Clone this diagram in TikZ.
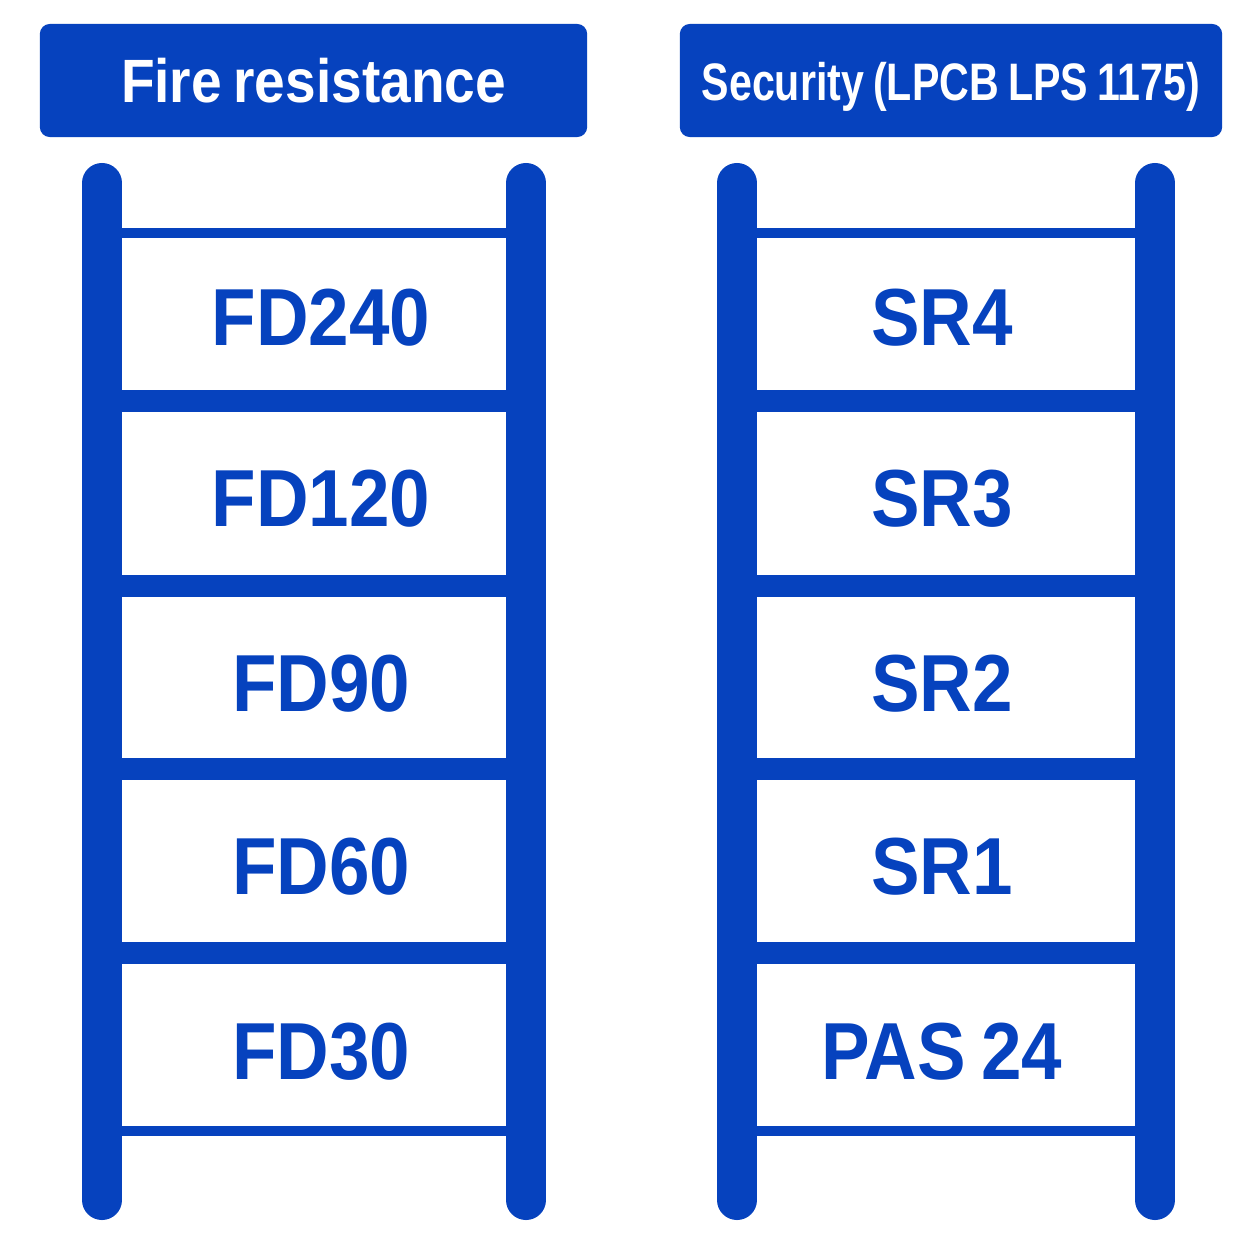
\documentclass[tikz,border=0pt]{standalone}
\usepackage{fontspec}
\newfontfamily\ladfont{Liberation Sans}[FakeStretch=0.9,WordSpace=0.75]
\newfontfamily\narfont{Liberation Sans}[FakeStretch=0.78,WordSpace=0.8]

\begin{document}
\begin{tikzpicture}[x=0.01cm,y=-0.01cm]
%
\definecolor{col_head}{RGB}{6,66,190}
\definecolor{col_rail}{RGB}{6,66,190}
\definecolor{col_rung}{RGB}{6,66,190}
\definecolor{col_lab}{RGB}{6,66,190}
%
%
\tikzset{
  head/.style={fill=col_head,rounded corners=0.1cm,inner sep=0pt,
    minimum height=1.13cm,text=white,text height=0.44cm,text depth=0pt},
  rail/.style={draw=col_rail,line width=0.4cm,line cap=round},
  rungthin/.style={draw=col_rung,line width=0.1cm},
  rungthick/.style={draw=col_rung,line width=0.22cm},
  lab/.style={inner sep=0pt,text=col_lab,text height=0.58cm,text depth=0pt,
    font=\ladfont\bfseries\fontsize{23}{26}\selectfont}
}
%
\fill[white] (0,0) rectangle (1254,1254);
\useasboundingbox (0,0) rectangle (1254,1254);
%
%
\node[head,minimum width=5.47cm,font=\ladfont\bfseries\fontsize{17.4}{20}\selectfont]
  (hf) at (313.5,80.5) {Fire resistance};
\node[head,minimum width=5.42cm,text height=0.39cm,font=\narfont\bfseries\fontsize{15}{18}\selectfont]
  (hs) at (951,80.5) {Security (LPCB LPS 1175)};
%
%
\coordinate (fl_t) at (102,183);
\coordinate (fl_b) at (102,1200);
\coordinate (fr_t) at (526,183);
\coordinate (fr_b) at (526,1200);
\coordinate (sl_t) at (737,183);
\coordinate (sl_b) at (737,1200);
\coordinate (sr_t) at (1155,183);
\coordinate (sr_b) at (1155,1200);
%
\coordinate (fl0) at (102,233);
\coordinate (fr0) at (526,233);
\coordinate (fl1) at (102,401);
\coordinate (fr1) at (526,401);
\coordinate (fl2) at (102,585.5);
\coordinate (fr2) at (526,585.5);
\coordinate (fl3) at (102,768.5);
\coordinate (fr3) at (526,768.5);
\coordinate (fl4) at (102,952.5);
\coordinate (fr4) at (526,952.5);
\coordinate (fl5) at (102,1131);
\coordinate (fr5) at (526,1131);
%
\coordinate (sl0) at (737,233);
\coordinate (sr0) at (1155,233);
\coordinate (sl1) at (737,401);
\coordinate (sr1) at (1155,401);
\coordinate (sl2) at (737,585.5);
\coordinate (sr2) at (1155,585.5);
\coordinate (sl3) at (737,768.5);
\coordinate (sr3) at (1155,768.5);
\coordinate (sl4) at (737,952.5);
\coordinate (sr4) at (1155,952.5);
\coordinate (sl5) at (737,1131);
\coordinate (sr5) at (1155,1131);
%
%
\draw[rungthin] (fl0) -- (fr0);
\draw[rungthick] (fl1) -- (fr1);
\draw[rungthick] (fl2) -- (fr2);
\draw[rungthick] (fl3) -- (fr3);
\draw[rungthick] (fl4) -- (fr4);
\draw[rungthin] (fl5) -- (fr5);
%
\draw[rungthin] (sl0) -- (sr0);
\draw[rungthick] (sl1) -- (sr1);
\draw[rungthick] (sl2) -- (sr2);
\draw[rungthick] (sl3) -- (sr3);
\draw[rungthick] (sl4) -- (sr4);
\draw[rungthin] (sl5) -- (sr5);
%
\draw[rail] (fl_t) -- (fl_b);
\draw[rail] (fr_t) -- (fr_b);
\draw[rail] (sl_t) -- (sl_b);
\draw[rail] (sr_t) -- (sr_b);
%
%
\node[lab] (f0) at (321,316) {FD240};
\node[lab] (f1) at (321,497) {FD120};
\node[lab] (f2) at (321,682) {FD90};
\node[lab] (f3) at (321,865) {FD60};
\node[lab] (f4) at (321,1050) {FD30};
%
\node[lab] (s0) at (942,316) {SR4};
\node[lab] (s1) at (942,497) {SR3};
\node[lab] (s2) at (942,682) {SR2};
\node[lab] (s3) at (942,865) {SR1};
\node[lab] (s4) at (942,1050) {PAS 24};
%
%
\end{tikzpicture}
\end{document}
